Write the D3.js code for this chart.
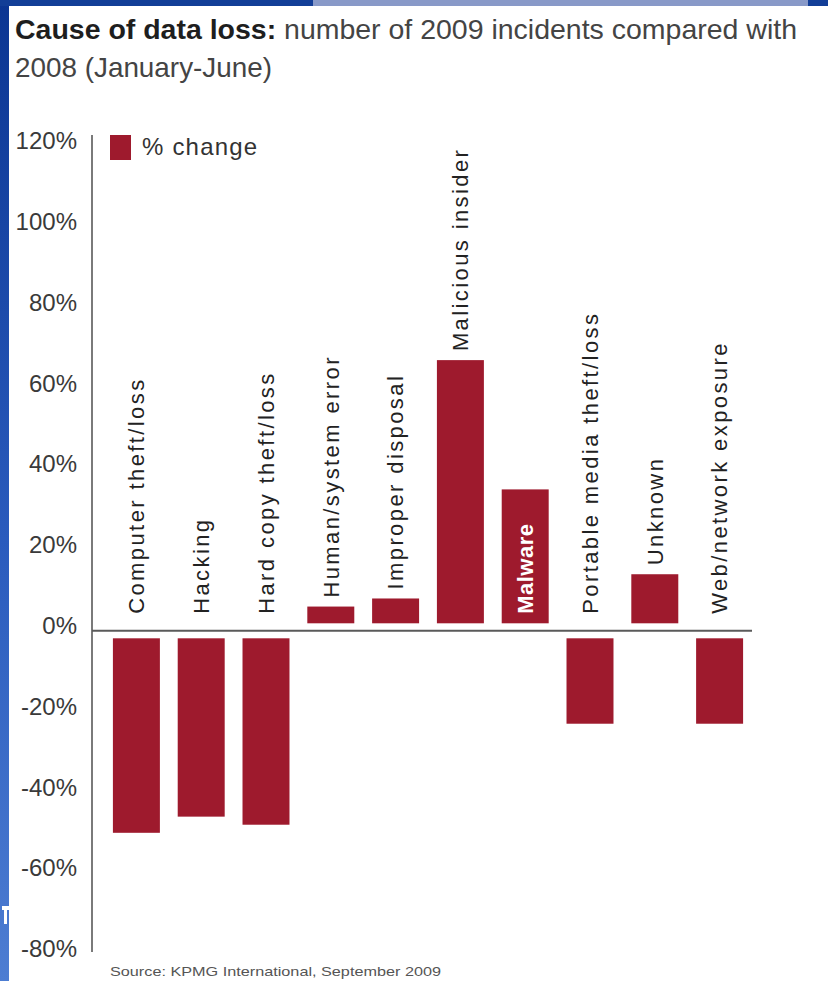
<!DOCTYPE html>
<html>
<head>
<meta charset="utf-8">
<script src="https://cdn.jsdelivr.net/npm/d3@7"></script>
<style>
  html, body { margin: 0; padding: 0; background: #ffffff; }
  svg { display: block; font-family: "Liberation Sans", Arial, Helvetica, sans-serif; }
</style>
</head>
<body>
<svg id="chart" width="828" height="981"></svg>
<script>
// Cause of data loss: % change in incidents, 2009 vs 2008 (Jan-Jun)
const categories = [
  "Computer theft/loss", "Hacking", "Hard copy theft/loss", "Human/system error",
  "Improper disposal", "Malicious insider", "Malware", "Portable media theft/loss",
  "Unknown", "Web/network exposure"
];
const pctChange = [-50, -46, -48, 6, 8, 67, 35, -23, 14, -23];
const yTicks = [120, 100, 80, 60, 40, 20, 0, -20, -40, -60, -80];
const seriesName = "% change";
const highlighted = "Malware";
const titleBold = "Cause of data loss:";
const titleRest = " number of 2009 incidents compared with";
const titleLine2 = "2008 (January-June)";
const sourceText = "Source: KPMG International, September 2009";

const W = 828, H = 981;
const barColor = "#9e1a2d";
const svg = d3.select("#chart");

// page background and slide frame
svg.append("rect").attr("width", W).attr("height", H).attr("fill", "#ffffff");
const defs = svg.append("defs");
const grad = defs.append("linearGradient").attr("id", "frameGrad")
  .attr("x1", 0).attr("y1", 0).attr("x2", 0).attr("y2", 1);
grad.append("stop").attr("offset", "0%").attr("stop-color", "#0b3592");
grad.append("stop").attr("offset", "55%").attr("stop-color", "#2a5bbd");
grad.append("stop").attr("offset", "100%").attr("stop-color", "#4d7dd2");
svg.append("rect").attr("x", 0).attr("y", 0).attr("width", 9).attr("height", H).attr("fill", "url(#frameGrad)");
svg.append("rect").attr("x", 0).attr("y", 0).attr("width", W).attr("height", 6).attr("fill", "#123e97");
svg.append("rect").attr("x", 313).attr("y", 0).attr("width", 495).attr("height", 6).attr("fill", "#8899c8");
// white mark on the frame edge
svg.append("rect").attr("x", 2).attr("y", 906).attr("width", 7).attr("height", 4).attr("fill", "#ffffff");
svg.append("rect").attr("x", 4).attr("y", 906).attr("width", 3).attr("height", 18).attr("fill", "#ffffff");

// title
const title = svg.append("text").attr("x", 15).attr("y", 39)
  .attr("font-size", 28).attr("textLength", 782).attr("lengthAdjust", "spacingAndGlyphs");
title.append("tspan").attr("font-weight", "bold").attr("fill", "#1e1e1e").text(titleBold);
title.append("tspan").attr("fill", "#444").text(titleRest);
svg.append("text").attr("x", 15).attr("y", 77).attr("font-size", 28).attr("fill", "#444")
  .attr("textLength", 257).attr("lengthAdjust", "spacingAndGlyphs").text(titleLine2);

// scales
const y = d3.scaleLinear().domain([-80, 120]).range([954, 146]);
const x = d3.scaleBand().domain(categories).range([104, 752])
  .paddingInner(0.275).paddingOuter(0.1375);

// y axis
const axisX = 92;
const yAxis = svg.append("g").attr("transform", `translate(${axisX},0)`)
  .call(d3.axisLeft(y).tickValues(yTicks).tickSize(0).tickPadding(15).tickFormat(d => d + "%"));
yAxis.select(".domain").remove();
yAxis.selectAll("text").attr("y", -5).attr("font-size", 24)
  .attr("font-family", "'Liberation Sans', Arial, sans-serif").attr("fill", "#3a3a3a");
svg.append("line").attr("x1", axisX).attr("x2", axisX)
  .attr("y1", y(122.7)).attr("y2", y(-79.5))
  .attr("stroke", "#7a7a7a").attr("stroke-width", 2);

// zero baseline
svg.append("line").attr("x1", axisX).attr("x2", x.range()[1])
  .attr("y1", y(0)).attr("y2", y(0)).attr("stroke", "#5a5a5a").attr("stroke-width", 2);

// bars, drawn with a small gap from the baseline
const gap = 7.5;
const data = categories.map((c, i) => ({ cat: c, v: pctChange[i] }));
svg.append("g").selectAll("rect").data(data).join("rect")
  .attr("x", d => x(d.cat))
  .attr("width", x.bandwidth())
  .attr("y", d => d.v >= 0 ? y(d.v) : y(0) + gap)
  .attr("height", d => d.v >= 0 ? (y(0) - gap) - y(d.v) : y(d.v) - (y(0) + gap))
  .attr("fill", barColor);

// category labels, rotated, reading upward
svg.append("g").selectAll("text").data(data).join("text")
  .attr("transform", d => {
    const cx = x(d.cat) + x.bandwidth() / 2;
    let sy;
    if (d.cat === highlighted) sy = y(0) - 17;
    else if (d.v > 0) sy = y(d.v) - 9;
    else sy = y(0) - 17;
    return `translate(${cx},${sy}) rotate(-90)`;
  })
  .attr("dy", "0.35em")
  .attr("font-size", 22)
  .attr("letter-spacing", d => d.cat === highlighted ? 0.5 : 2.4)
  .attr("font-weight", d => d.cat === highlighted ? "bold" : "normal")
  .attr("fill", d => d.cat === highlighted ? "#ffffff" : "#222")
  .text(d => d.cat);

// legend
const lg = svg.append("g").attr("transform", "translate(110,135)");
lg.append("rect").attr("width", 21).attr("height", 25).attr("fill", barColor);
lg.append("text").attr("x", 32).attr("y", 20).attr("font-size", 24).attr("fill", "#333")
  .attr("letter-spacing", 1.2).text(seriesName);

// source note
svg.append("text").attr("x", 110).attr("y", 976).attr("font-size", 13).attr("fill", "#555")
  .attr("textLength", 331).attr("lengthAdjust", "spacingAndGlyphs").text(sourceText);
</script>
</body>
</html>
